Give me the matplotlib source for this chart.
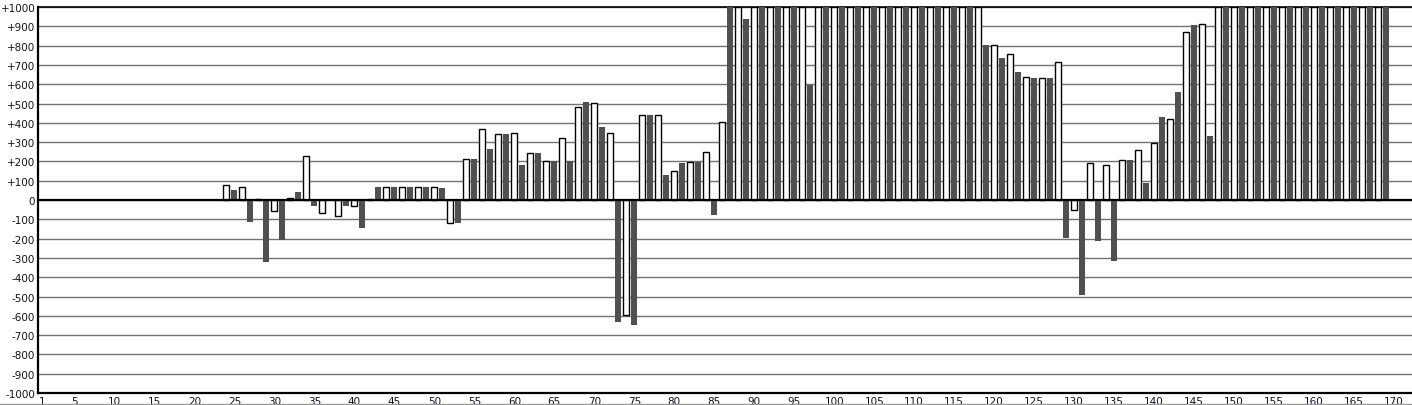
import matplotlib.pyplot as plt
import numpy as np

# two interleaved series: even x (white bars) and odd x (dark bars)
x_even = np.arange(24, 170, 2)
x_odd = np.arange(25, 170, 2)

even_vals = [78, 67, 5, -57, 9, 228, -69, -85, -33, 5,
             67, 67, 67, 67, -121, 211, 370, 340, 345, 242,
             200, 319, 480, 504, 345, -594, 439, 439, 149, 195,
             247, 402, 1000, 1000, 1000, 1000, 1000, 1000, 1000, 1000,
             1000, 1000, 1000, 1000, 1000, 1000, 1000, 1000, 801, 755,
             636, 630, 713, -54, 190, 180, 206, 257, 294, 418,
             869, 912, 1000, 1000, 1000, 1000, 1000, 1000, 1000, 1000,
             1000, 1000, 1000]

odd_vals = [52, -112, -320, -207, 42, -33, 0, -33, -143, 67,
            67, 67, 67, 62, -117, 212, 264, 340, 181, 243,
            202, 202, 508, 378, -631, -646, 439, 128, 192, 195,
            -76, 1000, 938, 1000, 1000, 1000, 595, 1000, 1000, 1000,
            1000, 1000, 1000, 1000, 1000, 1000, 1000, 803, 736, 663,
            632, 632, -199, -490, -211, -314, 207, 88, 430, 560,
            907, 330, 1000, 1000, 1000, 1000, 1000, 1000, 1000, 1000,
            1000, 1000, 1000]

x_labels = [1] + list(range(5, 171, 5))
y_ticks = list(range(-1000, 1001, 100))

fig = plt.figure(figsize=(14.12, 4.06), dpi=100)
ax = fig.add_axes([38/1412, 1 - 394/406, 1 - 38/1412, (394 - 8)/406])

ax.bar(x_even, even_vals, width=0.75, color='white', edgecolor='black', linewidth=1.0, zorder=3)
ax.bar(x_odd, odd_vals, width=0.75, color='#505050', edgecolor='none', zorder=3)

ax.axhline(0, color='black', lw=1.6, zorder=4)

ax.set_xlim(0.44, 172.25)
ax.set_ylim(-1000, 1000)

ax.set_xticks(x_labels)
ax.set_xticklabels([str(v) for v in x_labels])
ax.set_xticks(range(5, 171, 5), minor=True)
ax.set_yticks(y_ticks)
ax.set_yticklabels([('+%d' % v) if v > 0 else str(v) for v in y_ticks])

ax.grid(False)
ax.grid(which='minor', axis='x', color='#727272', lw=1.0, zorder=0)
ax.grid(which='major', axis='y', color='#727272', lw=1.0, zorder=0)

ax.tick_params(axis='both', which='both', length=0, labelsize=7.5, labelcolor='#111122')
ax.tick_params(axis='x', pad=2)
ax.tick_params(axis='y', pad=2)

ax.spines['right'].set_visible(False)
ax.spines['left'].set_linewidth(1.6)
ax.spines['bottom'].set_linewidth(1.6)
ax.spines['top'].set_linewidth(1.2)

fig.add_artist(plt.Line2D([0, 1], [1.5/406, 1.5/406], color='#999999', lw=1))

plt.savefig('out.png', dpi=100)
